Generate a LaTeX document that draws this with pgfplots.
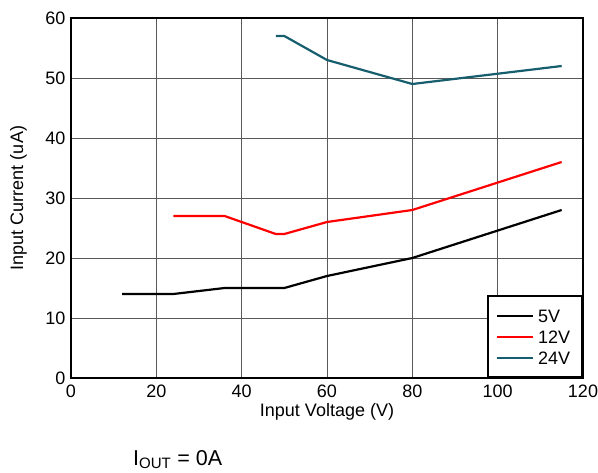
\documentclass[border=0pt]{standalone}
\usepackage{pgfplots}
\pgfplotsset{compat=1.18}
\usepackage{fontspec}
\setmainfont{Liberation Sans}
\definecolor{tealc}{RGB}{22,94,110}
\begin{document}
\begin{tikzpicture}
\path[use as bounding box] (-71pt,-94pt) rectangle (527pt,378pt);
\begin{axis}[
  scale only axis,
  width=512pt, height=360pt,
  xmin=0, xmax=120, ymin=0, ymax=60,
  xtick={0,20,...,120}, ytick={0,10,...,60},
  major tick length=0pt,
  grid=major,
  major grid style={line width=0.8pt, black!65},
  axis line style={line width=2.2pt},
  /pgf/number format/assume math mode=true,
  tick label style={font=\fontsize{18}{21}\selectfont},
  xticklabel style={yshift=-3pt},
  yticklabel style={xshift=-2pt},
  label style={font=\fontsize{18}{21}\selectfont},
  xlabel={Input Voltage (V)},
  ylabel={Input Current (uA)},
  xlabel style={at={(axis description cs:0.5,0)}, anchor=base, yshift=-38pt},
  ylabel style={at={(axis description cs:-0.1025,0.5)}, anchor=center},
  legend style={at={(1,0)}, anchor=south east, draw=black, line width=1.6pt,
    font=\fontsize{18}{21}\selectfont, row sep=0pt, inner xsep=8pt, inner ysep=9pt,
    nodes={text height=13pt, text depth=0pt, inner ysep=4pt, inner xsep=4pt},
    legend cell align=left},
  legend image code/.code={\draw[#1, line width=2.2pt] (0pt,0pt) -- (36pt,0pt);},
]
\addplot[black, line width=2.2pt] coordinates {(12,14) (24,14) (36,15) (50,15) (60,17) (80,20) (115,28)};
\addlegendentry{5V}
\addplot[red, line width=2.2pt] coordinates {(24,27) (36,27) (48,24) (50,24) (60,26) (80,28) (115,36)};
\addlegendentry{12V}
\addplot[tealc, line width=2.2pt] coordinates {(48,57) (50,57) (60,53) (80,49) (115,52)};
\addlegendentry{24V}
\end{axis}
\node[anchor=base west, font=\fontsize{21.5}{25}\selectfont, inner sep=0pt] at (62pt,-87pt) {I\textsubscript{OUT} = 0A};
\end{tikzpicture}
\end{document}
